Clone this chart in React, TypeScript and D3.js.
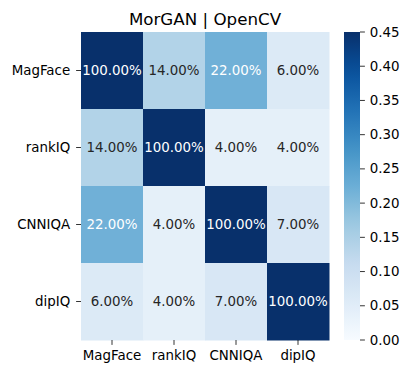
import React from "react";
import * as d3 from "d3";

const labels = ["MagFace", "rankIQ", "CNNIQA", "dipIQ"];
const matrix = [
  [1.0, 0.14, 0.22, 0.06],
  [0.14, 1.0, 0.04, 0.04],
  [0.22, 0.04, 1.0, 0.07],
  [0.06, 0.04, 0.07, 1.0],
];
const cbTicks = [0, 0.05, 0.1, 0.15, 0.2, 0.25, 0.3, 0.35, 0.4, 0.45];
const title = "MorGAN | OpenCV";
const vmin = 0;
const vmax = 0.45;

const bluesStops = ["#f7fbff", "#deebf7", "#c6dbef", "#9ecae1", "#6baed6", "#4292c6", "#2171b5", "#08519c", "#08306b"];
const blues = d3
  .scaleLinear<string>()
  .domain(bluesStops.map((_, i) => i / (bluesStops.length - 1)))
  .range(bluesStops)
  .interpolate(d3.interpolateRgb)
  .clamp(true);

const color = (v: number) => blues((v - vmin) / (vmax - vmin));

function lum(c: string) {
  const rgb = d3.rgb(c);
  const f = (x: number) => {
    x /= 255;
    return x <= 0.03928 ? x / 12.92 : Math.pow((x + 0.055) / 1.055, 2.4);
  };
  return 0.2126 * f(rgb.r) + 0.7152 * f(rgb.g) + 0.0722 * f(rgb.b);
}

const font = "DejaVu Sans, sans-serif";

export default function App() {
  const W = 410, H = 374;
  const left = 81, right = 329, top = 32, bottom = 340;
  const tickLen = 4.9, pad = 4.9;
  const x = d3.scaleBand<string>().domain(labels).range([left, right]);
  const y = d3.scaleBand<string>().domain(labels).range([top, bottom]);
  const cbX0 = 344, cbW = 16;
  const cy = d3.scaleLinear().domain([vmin, vmax]).range([bottom, top]);
  const gradStops = d3.range(0, 1.0001, 0.05);

  return (
    <svg width={W} height={H} style={{ position: "absolute", left: 0, top: 0 }}>
      <defs>
        <linearGradient id="cb" x1="0" y1="1" x2="0" y2="0">
          {gradStops.map((t, i) => (
            <stop key={i} offset={t} stopColor={blues(t)} />
          ))}
        </linearGradient>
      </defs>
      <rect x={0} y={0} width={W} height={H} fill="#fff" />
      <text x={(left + right) / 2} y={24.5} textAnchor="middle" fontFamily={font} fontSize={16.7} fill="#000">
        {title}
      </text>
      {matrix.map((row, i) =>
        row.map((v, j) => {
          const c = color(v);
          const tc = lum(c) < 0.408 ? "#ffffff" : "#262626";
          return (
            <g key={`${i}-${j}`}>
              <rect x={x(labels[j])!} y={y(labels[i])!} width={x.bandwidth() + 0.5} height={y.bandwidth() + 0.5} fill={c} />
              <text
                x={x(labels[j])! + x.bandwidth() / 2}
                y={y(labels[i])! + y.bandwidth() / 2}
                textAnchor="middle"
                dominantBaseline="central"
                fontFamily={font}
                fontSize={13.4}
                fill={tc}
              >
                {(v * 100).toFixed(2) + "%"}
              </text>
            </g>
          );
        })
      )}
      {labels.map((l) => (
        <g key={"y" + l}>
          <line x1={left - tickLen} x2={left} y1={y(l)! + y.bandwidth() / 2} y2={y(l)! + y.bandwidth() / 2} stroke="#000" strokeWidth={0.8} />
          <text x={left - tickLen - pad - 1} y={y(l)! + y.bandwidth() / 2} textAnchor="end" dominantBaseline="central" fontFamily={font} fontSize={13.4} fill="#000">
            {l}
          </text>
        </g>
      ))}
      {labels.map((l) => (
        <g key={"x" + l}>
          <line x1={x(l)! + x.bandwidth() / 2} x2={x(l)! + x.bandwidth() / 2} y1={bottom} y2={bottom + tickLen} stroke="#000" strokeWidth={0.8} />
          <text x={x(l)! + x.bandwidth() / 2} y={bottom + 20} textAnchor="middle" fontFamily={font} fontSize={13.4} fill="#000">
            {l}
          </text>
        </g>
      ))}
      <rect x={cbX0} y={top} width={cbW} height={bottom - top} fill="url(#cb)" />
      {cbTicks.map((t) => (
        <g key={"c" + t}>
          <line x1={cbX0 + cbW} x2={cbX0 + cbW + tickLen} y1={cy(t)} y2={cy(t)} stroke="#000" strokeWidth={0.8} />
          <text x={cbX0 + cbW + tickLen + pad} y={cy(t)} dominantBaseline="central" fontFamily={font} fontSize={13.4} fill="#000">
            {t.toFixed(2)}
          </text>
        </g>
      ))}
    </svg>
  );
}
